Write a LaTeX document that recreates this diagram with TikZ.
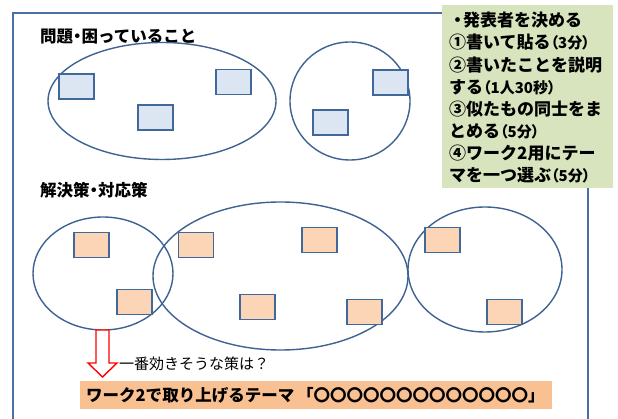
\documentclass[tikz,border=0pt]{standalone}
\usepackage{fontspec}
\newfontfamily\jp{Noto Sans CJK JP}
\newfontfamily\jpp{Noto Sans CJK JP}[RawFeature=+palt]
\usetikzlibrary{shapes.geometric}
\definecolor{frameblue}{HTML}{4A6FA0}
\definecolor{ellblue}{HTML}{3E6393}
\definecolor{rectline}{HTML}{41689A}
\definecolor{bluefill}{HTML}{DCE5F2}
\definecolor{orangefill}{HTML}{FBD5B5}
\definecolor{barfill}{HTML}{F9C091}
\definecolor{greenfill}{HTML}{D7E4BD}
\tikzset{
  grp/.style={draw=ellblue, line width=1.4pt, ellipse, inner sep=0pt},
  card/.style={draw=rectline, line width=1.4pt, minimum width=35pt, minimum height=25pt, inner sep=0pt},
  bcard/.style={card, fill=bluefill},
  ocard/.style={card, fill=orangefill},
  ttl/.style={font=\jp\bfseries\fontsize{16.5}{18}\selectfont, anchor=base west, inner sep=0pt},
  gline/.style={font=\jp\bfseries\fontsize{17}{20}\selectfont, anchor=base west, inner sep=0pt},
}
\newcommand{\sm}[1]{{\jpp\bfseries\fontsize{15}{16}\selectfont #1}}
\newcommand{\ndot}{\kern-4pt・\kern-4pt}
\begin{document}
\begin{tikzpicture}[x=1pt,y=-1pt]
\useasboundingbox (0,0) rectangle (618,419);
\clip (0,0) rectangle (618,419);
\fill[white] (0,0) rectangle (618,419);
% frame
\draw[frameblue, line width=1.5pt] (13,13) rectangle (588,440);
% titles
\node[ttl] (t1) at (40,43) {問題\ndot 困っていること};
\node[ttl] (t2) at (40,197) {解決策\ndot 対応策};
% upper ellipses
\node[grp, minimum width=228pt, minimum height=117pt] (e1) at (162,101) {};
\node[grp, minimum width=120pt, minimum height=118pt] (e2) at (350,101) {};
% blue cards
\node[bcard] (b1) at (76.5,86.5) {};
\node[bcard] (b2) at (155.5,117.5) {};
\node[bcard] (b3) at (233.5,82) {};
\node[bcard] (b4) at (390.5,82.5) {};
\node[bcard] (b5) at (330.5,122.5) {};
% lower ellipses
\node[grp, minimum width=140pt, minimum height=113pt] (e3) at (103,273.5) {};
\node[grp, minimum width=255pt, minimum height=148pt] (e4) at (280.5,276) {};
\node[grp, minimum width=154pt, minimum height=125pt] (e5) at (485,269.5) {};
% orange cards
\node[ocard] (o1) at (91.5,245) {};
\node[ocard] (o2) at (134.5,302) {};
\node[ocard] (o3) at (196,245) {};
\node[ocard] (o4) at (257.5,307) {};
\node[ocard] (o5) at (319.5,240) {};
\node[ocard] (o6) at (364.5,312) {};
\node[ocard] (o7) at (442.5,240) {};
\node[ocard] (o8) at (504.5,312) {};
% green instruction box
\node[fill=greenfill, minimum width=171pt, minimum height=183pt, inner sep=0pt, anchor=north west] (gbox) at (442,5) {};
\node[gline] (g1) at (449,27) {・\kern-3pt 発表者を決める};
\node[gline] (g2) at (449,49) {①書いて貼る\sm{（3分）}};
\node[gline] (g3) at (449,71.5) {②書いたことを説明};
\node[gline] (g4) at (449,93.5) {する\sm{（1人30秒）}};
\node[gline] (g5) at (449,116) {③似たもの同士をま};
\node[gline] (g6) at (449,137.5) {とめる\sm{（5分）}};
\node[gline] (g7) at (449,160) {④ワーク2用にテー};
\node[gline] (g8) at (449,181.5) {マを一つ選ぶ\sm{（5分）}};
% red hollow arrow
\draw[red, line width=1.4pt, fill=white, line join=miter]
  (96,330) -- (109,330) -- (109,363) -- (117,363) -- (102.5,377) -- (88,363) -- (96,363) -- cycle;
\coordinate (arrtip) at (102.5,377);
\node[anchor=base west, inner sep=0pt, font=\jp\fontsize{15}{17}\selectfont] (q) at (119,369) {一番効きそうな策は？};
% bottom bar
\node[fill=barfill, minimum width=472pt, minimum height=28pt, inner sep=0pt, anchor=north west] (bar) at (80,381) {};
\node[anchor=base west, inner sep=0pt, font=\jp\bfseries\fontsize{16.5}{20}\selectfont] (bt) at (86,401) {ワーク2で取り上げるテーマ\hspace{3pt}「〇〇〇〇〇〇〇〇〇〇〇〇〇」};
\end{tikzpicture}
\end{document}
